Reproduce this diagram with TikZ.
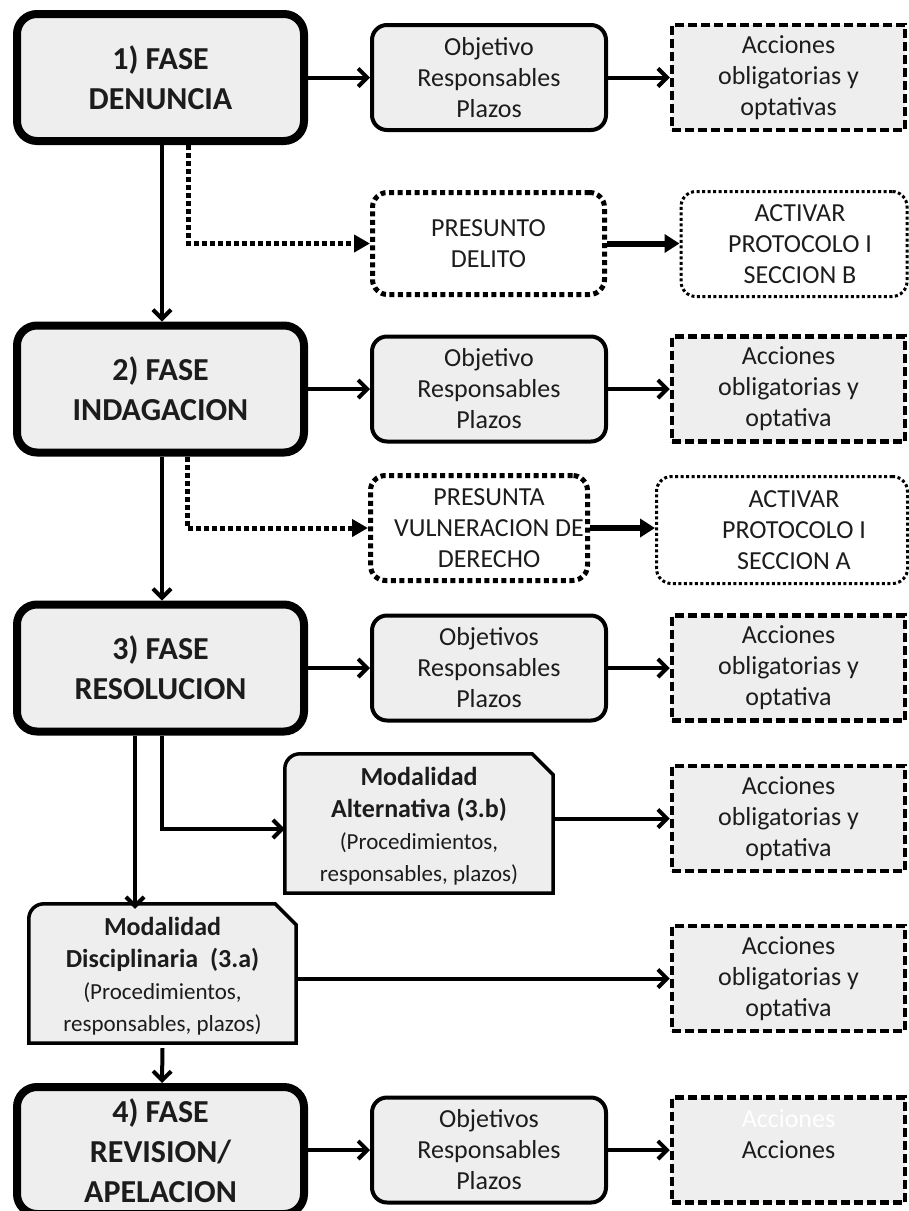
\documentclass[tikz,border=0pt]{standalone}
\usepackage{fontspec}
\setmainfont{Carlito}
\usetikzlibrary{arrows.meta,calc,backgrounds}
\definecolor{boxfill}{RGB}{238,238,238}
\definecolor{ink}{RGB}{28,28,28}
\begin{document}
\begin{tikzpicture}[x=1pt,y=-1pt,
  phase/.style={draw=black, line width=8pt, rounded corners=20pt, fill=boxfill,
    minimum width=287pt, minimum height=127pt, align=center, inner sep=0pt,
    font=\fontsize{32}{40}\selectfont\bfseries, text=ink},
  info/.style={draw=black, line width=4pt, rounded corners=15pt, fill=boxfill,
    minimum width=234pt, minimum height=105pt, align=center, inner sep=0pt,
    font=\fontsize{26}{31}\selectfont, text=ink},
  actions/.style={draw=black, line width=4.5pt, dash pattern=on 9pt off 4pt, fill=boxfill,
    minimum width=233pt, minimum height=105pt, align=center, inner sep=0pt,
    font=\fontsize{26}{31}\selectfont, text=ink},
  suspect/.style={draw=black, line width=5pt, dash pattern=on 5pt off 3.5pt, rounded corners=15pt,
    fill=white, inner sep=0pt},
  protocol/.style={draw=black, line width=3pt, dash pattern=on 3pt off 2.5pt, rounded corners=15pt,
    fill=white, inner sep=0pt},
  plaintext/.style={align=center, inner sep=0pt, font=\fontsize{26}{31}\selectfont, text=ink},
  modal/.style={minimum width=268pt, minimum height=139pt, align=center, inner sep=0pt,
    font=\fontsize{26}{32}\selectfont, text=ink},
  modalframe/.style={draw=black, line width=3.5pt, fill=boxfill},
  flow/.style={line width=4pt, -{Straight Barb[length=9pt,width=18pt]}},
  branch/.style={line width=5pt, dash pattern=on 5pt off 3pt, -{Triangle[length=16pt,width=17pt]}},
  trigger/.style={line width=6pt, -{Triangle[length=15pt,width=18pt]}},
]
\useasboundingbox (0,0) rectangle (909,1211);

% phases
\node[phase] (ph1) at (160.5,77.5) {1) FASE\\DENUNCIA};
\node[phase] (ph2) at (160.5,389) {2) FASE\\INDAGACION};
\node[phase] (ph3) at (160.5,668) {3) FASE\\RESOLUCION};
\node[phase] (ph4) at (160.5,1150.5) {4) FASE\\REVISION/\\APELACION};

% objectives, responsibles and deadlines
\node[info] (obj1) at (489,77.5) {Objetivo\\Responsables\\Plazos};
\node[info] (obj2) at (489,389) {Objetivo\\Responsables\\Plazos};
\node[info] (obj3) at (489,668) {Objetivos\\Responsables\\Plazos};
\node[info] (obj4) at (489,1150) {Objetivos\\Responsables\\Plazos};

% actions
\node[actions] (acc1) at (788.5,77.5) {Acciones\\obligatorias y\\optativas};
\node[actions] (acc2) at (788.5,389) {Acciones\\obligatorias y\\optativa};
\node[actions] (acc3) at (788.5,668) {Acciones\\obligatorias y\\optativa};
\node[actions] (acc4) at (788.5,818.5) {Acciones\\obligatorias y\\optativa};
\node[actions] (acc5) at (788.5,978.5) {Acciones\\obligatorias y\\optativa};
\node[actions] (acc6) at (788.5,1150) {\textcolor{white}{Acciones}\\Acciones\\\phantom{Acciones}};

% presumed cases and protocols
\node[suspect, minimum width=232pt, minimum height=102pt, plaintext] (pres1) at (488.5,243.5) {PRESUNTO\\DELITO};
\node[protocol, minimum width=226pt, minimum height=105pt] (actB) at (794,244) {};
\node[plaintext] (actBtext) at (800,244) {ACTIVAR\\PROTOCOLO I\\SECCION B};

\node[suspect, minimum width=217pt, minimum height=105pt] (pres2) at (479,528) {};
\node[plaintext] (pres2text) at (489,528) {PRESUNTA\\VULNERACION DE\\DERECHO};
\node[protocol, minimum width=251pt, minimum height=107pt] (actA) at (782,530) {};
\node[plaintext] (actAtext) at (794,530) {ACTIVAR\\PROTOCOLO I\\SECCION A};

% modalities
\node[modal] (alt) at (419,826) {\bfseries Modalidad\\\bfseries Alternativa (3.b)\\{\fontsize{23}{28}\selectfont(Procedimientos,}\\{\fontsize{23}{28}\selectfont responsables, plazos)}};
\node[modal, minimum width=267pt] (disc) at (162.5,976) {\bfseries Modalidad\\\bfseries Disciplinaria\ \ (3.a)\\{\fontsize{23}{28}\selectfont(Procedimientos,}\\{\fontsize{23}{28}\selectfont responsables, plazos)}};
\begin{scope}[on background layer]
  \foreach \m/\dy in {alt/-2.5,disc/-2.5} {
    \draw[modalframe] ($(\m.south west)+(0,\dy)$) -- ($(\m.north west)+(0,15+\dy)$)
      to[out=90,in=180] ($(\m.north west)+(15,\dy)$)
      -- ($(\m.north east)+(-21,\dy)$) -- ($(\m.north east)+(0,21+\dy)$)
      -- ($(\m.south east)+(0,\dy)$) -- cycle;
  }
\end{scope}

% main flow
\draw[flow] (ph1.east |- obj1.west) -- (obj1.west);
\draw[flow] (obj1.east) -- (acc1.west);
\draw[flow] (ph2.east |- obj2.west) -- (obj2.west);
\draw[flow] (obj2.east) -- (acc2.west);
\draw[flow] (ph3.east |- obj3.west) -- (obj3.west);
\draw[flow] (obj3.east) -- (acc3.west);
\draw[flow] (ph4.east |- obj4.west) -- (obj4.west);
\draw[flow] (obj4.east) -- (acc6.west);
\draw[flow] ([xshift=1.5pt]ph1.south) -- ([xshift=1.5pt]ph2.north);
\draw[flow] ([xshift=1.5pt]ph2.south) -- ([xshift=1.5pt]ph3.north);
\draw[flow] ([xshift=-25.5pt]ph3.south) -- ([xshift=-25.5pt,yshift=-2.5pt]ph3.south |- disc.north);
\draw[flow] ([xshift=1.5pt]ph3.south) |- ([yshift=-3pt]alt.west);
\draw[flow] (alt.east |- acc4.west) -- (acc4.west);
\draw[flow] (disc.east |- acc5.west) -- (acc5.west);
\draw[flow] ([yshift=-2.5pt]disc.south) -- ([xshift=1.5pt]ph4.north);

% branches to the protocols
\draw[branch] ([xshift=28pt]ph1.south) |- (pres1.west);
\draw[branch] ([xshift=27pt]ph2.south) |- (pres2.west);
\draw[trigger] (pres1.east) -- (actB.west |- pres1.east);
\draw[trigger] (pres2.east) -- (actA.west |- pres2.east);
\end{tikzpicture}
\end{document}
